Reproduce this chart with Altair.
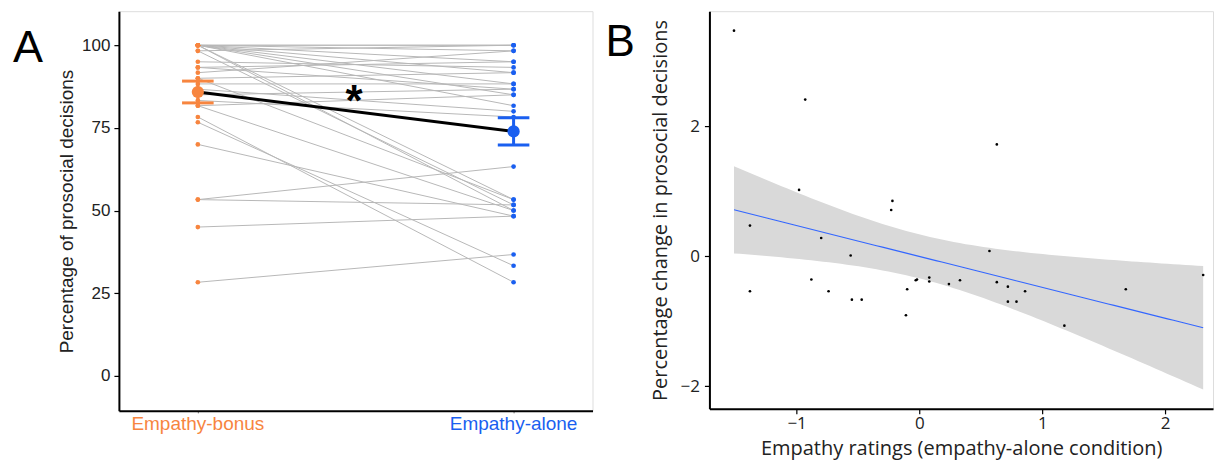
import altair as alt
import numpy as np
import pandas as pd

# ---------------- Panel A data (percentage of prosocial decisions) ----------------
bonus_pct = [100, 100, 100, 100, 100, 100, 100, 100, 100, 100,
             98.3, 98.3, 95, 93.3, 93.3, 91.7, 90, 90, 88.3, 86.7,
             85, 83.3, 81.7, 81.7, 78.3, 76.7, 70, 53.3, 53.3, 45, 28.3]
alone_pct = [100, 100, 98.3, 95, 91.7, 88.3, 85, 53.3, 50, 81.7,
             100, 51.7, 93.3, 95, 86.7, 98.3, 91.7, 53.3, 88.3, 80,
             86.7, 78.3, 50, 85, 28.3, 33.3, 48.3, 63.3, 51.7, 48.3, 36.7]
conditions = ["Empathy-bonus", "Empathy-alone"]
cond_colors = ["#F7853F", "#1A5FF0"]

# ---------------- Panel B data ----------------
empathy_ratings = [-1.51, -0.93, -0.98, -0.22, -0.23, -1.38, -0.80, -0.56, -0.88, -1.38,
                   -0.74, -0.55, -0.47, -0.11, -0.10, -0.03, -0.02, 0.08, 0.08, 0.24,
                   0.33, 0.57, 0.63, 0.72, 0.72, 0.79, 0.86, 1.18, 1.68, 2.31, 0.63]
prosocial_change = [3.47, 2.41, 1.02, 0.85, 0.71, 0.47, 0.28, 0.01, -0.36, -0.54,
                    -0.54, -0.67, -0.67, -0.91, -0.51, -0.37, -0.36, -0.33, -0.39, -0.43,
                    -0.37, 0.08, -0.40, -0.47, -0.70, -0.70, -0.54, -1.07, -0.51, -0.29, 1.72]

FONT = "Liberation Sans"
FONT_B = "Open Sans"

# ---------------- Panel A ----------------
n = len(bonus_pct)
long_rows = []
for i in range(n):
    long_rows.append({"id": i, "pos": 0, "val": bonus_pct[i], "cond": conditions[0]})
    long_rows.append({"id": i, "pos": 1, "val": alone_pct[i], "cond": conditions[1]})
df_long = pd.DataFrame(long_rows)

summ = []
for k, vals in enumerate([bonus_pct, alone_pct]):
    arr = np.array(vals, dtype=float)
    m = arr.mean()
    se = arr.std(ddof=1) / np.sqrt(len(arr))
    summ.append({"pos": k, "val": m, "lo": m - se, "hi": m + se,
                 "pl": k - 0.05, "pr": k + 0.05, "cond": conditions[k]})
df_sum = pd.DataFrame(summ)

WA, HA = 474, 400
xsA = alt.Scale(domain=[-0.25, 1.25], nice=False, zero=False)
ysA = alt.Scale(domain=[-10.6, 110.3], nice=False, zero=False)
axXA = alt.Axis(values=[0, 1], labels=False, title=None, grid=False,
                domainColor="black", domainWidth=2, tickColor="#777", tickSize=2)
axYA = alt.Axis(values=[0, 25, 50, 75, 100], title="Percentage of prosocial decisions",
                grid=False, domainColor="black", domainWidth=2, tickColor="black",
                tickSize=5, tickWidth=1.2, labelFont=FONT, labelFontSize=17,
                labelColor="#222", labelPadding=4, titleFont=FONT, titleFontSize=19,
                titleFontWeight="normal", titleColor="#222", titlePadding=5)
colA = alt.Color("cond:N", scale=alt.Scale(domain=conditions, range=cond_colors), legend=None)

def XA(f):
    return alt.X(f, type="quantitative", scale=xsA, axis=axXA)

def YA(f):
    return alt.Y(f, type="quantitative", scale=ysA, axis=axYA)

lines = alt.Chart(df_long).mark_line(color="#B8B8B8", strokeWidth=1).encode(
    x=XA("pos"), y=YA("val"), detail="id:N")
pts = alt.Chart(df_long).mark_circle(size=22, opacity=1).encode(
    x=XA("pos"), y=YA("val"), color=colA)
mean_line = alt.Chart(df_sum).mark_line(color="black", strokeWidth=3).encode(
    x=XA("pos"), y=YA("val"))
err_v = alt.Chart(df_sum).mark_rule(strokeWidth=3).encode(
    x=XA("pos"), y=YA("lo"), y2="hi", color=colA)
cap_lo = alt.Chart(df_sum).mark_rule(strokeWidth=3).encode(
    x=XA("pl"), x2="pr", y=YA("lo"), color=colA)
cap_hi = alt.Chart(df_sum).mark_rule(strokeWidth=3).encode(
    x=XA("pl"), x2="pr", y=YA("hi"), color=colA)
mean_pts = alt.Chart(df_sum).mark_circle(size=150, opacity=1).encode(
    x=XA("pos"), y=YA("val"), color=colA)
star = alt.Chart(pd.DataFrame({"pos": [0.495], "val": [82.5], "t": ["*"]})).mark_text(
    font=FONT, fontSize=44, fontWeight="bold", color="black", baseline="middle").encode(
    x=XA("pos"), y=YA("val"), text="t:N")
xlabels = alt.Chart(pd.DataFrame({"pos": [0, 1], "cond": conditions})).mark_text(
    font=FONT, fontSize=19, baseline="middle").encode(
    x=XA("pos"), y=alt.value(413), text="cond:N", color=colA)
labA = alt.Chart(pd.DataFrame({"t": ["A"]})).mark_text(
    font=FONT, fontSize=45, align="left", baseline="alphabetic", color="black").encode(
    x=alt.value(-106), y=alt.value(51), text="t:N")

panelA = alt.layer(lines, pts, mean_line, err_v, cap_lo, cap_hi, mean_pts, star,
                   xlabels, labA).properties(width=WA, height=HA)

# ---------------- Panel B ----------------
xb = np.array(empathy_ratings)
yb = np.array(prosocial_change)
nb = len(xb)
slope, intercept = np.polyfit(xb, yb, 1)
resid = yb - (intercept + slope * xb)
s = np.sqrt(np.sum(resid ** 2) / (nb - 2))
xm = xb.mean()
sxx = np.sum((xb - xm) ** 2)
grid = np.linspace(xb.min(), xb.max(), 80)
fit = intercept + slope * grid
se_fit = s * np.sqrt(1.0 / nb + (grid - xm) ** 2 / sxx)
tcrit = 2.045
df_fit = pd.DataFrame({"x": grid, "y": fit, "lo": fit - tcrit * se_fit, "hi": fit + tcrit * se_fit})
df_pts = pd.DataFrame({"x": xb, "y": yb})

WB, HB = 504, 398
xsB = alt.Scale(domain=[-1.71, 2.39], nice=False, zero=False)
ysB = alt.Scale(domain=[-2.35, 3.77], nice=False, zero=False)
axXB = alt.Axis(values=[-1, 0, 1, 2], title="Empathy ratings (empathy-alone condition)",
                grid=False, domainColor="black", domainWidth=2, tickColor="black",
                tickSize=5, tickWidth=1.2, labelFont=FONT_B, labelFontSize=17,
                labelColor="#222", labelPadding=2, titleFont=FONT_B, titleFontSize=20,
                titleFontWeight="normal", titleColor="#222", titlePadding=7)
axYB = alt.Axis(values=[-2, 0, 2], title="Percentage change in prosocial decisions",
                grid=False, domainColor="black", domainWidth=2, tickColor="black",
                tickSize=5, tickWidth=1.2, labelFont=FONT_B, labelFontSize=17,
                labelColor="#222", labelPadding=5, titleFont=FONT_B, titleFontSize=20,
                titleFontWeight="normal", titleColor="#222", titlePadding=10)

def XB(f):
    return alt.X(f, type="quantitative", scale=xsB, axis=axXB)

def YB(f):
    return alt.Y(f, type="quantitative", scale=ysB, axis=axYB)

band = alt.Chart(df_fit).mark_area(color="#D9D9D9", opacity=1).encode(
    x=XB("x"), y=YB("lo"), y2="hi")
fit_line = alt.Chart(df_fit).mark_line(color="#3366FF", strokeWidth=1.1).encode(
    x=XB("x"), y=YB("y"))
ptsB = alt.Chart(df_pts).mark_circle(size=7, color="black", opacity=1).encode(
    x=XB("x"), y=YB("y"))
labB = alt.Chart(pd.DataFrame({"t": ["B"]})).mark_text(
    font=FONT, fontSize=44, align="left", baseline="alphabetic", color="black").encode(
    x=alt.value(-104), y=alt.value(45), text="t:N")

panelB = alt.layer(band, fit_line, ptsB, labB).properties(width=WB, height=HB)

chart = alt.hconcat(panelA, panelB, spacing=117, bounds="flush").properties(
    padding={"left": 4, "top": 2, "right": 0, "bottom": 0}
).configure_view(stroke=None).configure(background="white")

chart.save("out.html", embed_options={"renderer": "svg", "actions": False})
